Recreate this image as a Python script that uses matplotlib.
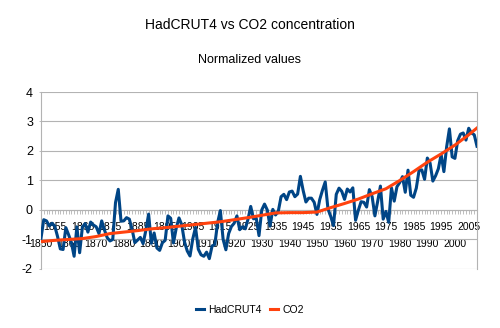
import numpy as np
import matplotlib
matplotlib.use('Agg')
from matplotlib import pyplot as plt

# HadCRUT4 annual values, normalized
years = np.arange(1850, 2009)
hadcrut4 = [
    -0.96, -0.33, -0.37, -0.54, -0.45, -0.55, -0.90, -1.32, -1.34, -0.60,
    -0.84, -1.10, -1.57, -0.57, -1.45, -0.58, -0.46, -0.75, -0.41, -0.51,
    -0.57, -0.80, -0.37, -0.68, -0.94, -1.05, -1.00, 0.25, 0.70, -0.38,
    -0.37, -0.26, -0.31, -0.65, -1.11, -1.02, -0.93, -1.14, -0.69, -0.14,
    -1.13, -0.78, -1.29, -1.37, -1.11, -1.03, -0.20, -0.28, -1.12, -0.62,
    -0.27, -0.50, -1.08, -1.39, -1.56, -0.98, -0.59, -1.33, -1.52, -1.57,
    -1.43, -1.65, -1.22, -1.17, -0.43, -0.02, -1.00, -1.35, -0.80, -0.56,
    -0.45, -0.20, -0.67, -0.57, -0.64, -0.32, 0.12, -0.30, -0.28, -0.87,
    0.00, 0.20, 0.00, -0.55, 0.02, -0.17, -0.04, 0.45, 0.53, 0.35,
    0.61, 0.64, 0.45, 0.54, 1.14, 0.66, 0.27, 0.40, 0.40, 0.26,
    -0.15, 0.35, 0.67, 0.95, 0.03, -0.22, -0.53, 0.53, 0.74, 0.63,
    0.36, 0.71, 0.61, 0.75, -0.35, -0.01, 0.28, 0.26, 0.10, 0.69,
    0.45, -0.20, 0.29, 0.81, -0.31, -0.05, -0.42, 0.75, 0.30, 0.79,
    0.93, 1.13, 0.60, 1.35, 0.50, 0.43, 0.74, 1.34, 1.36, 1.04,
    1.76, 1.59, 0.98, 1.16, 1.40, 1.88, 1.30, 2.14, 2.75, 1.80,
    1.75, 2.35, 2.57, 2.61, 2.37, 2.77, 2.61, 2.55, 2.16,
]

# CO2 concentration, normalized
co2_years = [1850, 1855, 1860, 1865, 1870, 1875, 1880, 1885, 1890, 1895,
             1900, 1905, 1910, 1915, 1920, 1925, 1930, 1935, 1940, 1945,
             1950, 1955, 1960, 1965, 1970, 1975, 1980, 1985, 1990, 1995,
             2000, 2005, 2008]
co2 = [-1.07, -1.03, -1.00, -0.97, -0.90, -0.80, -0.75, -0.70, -0.64, -0.60,
       -0.55, -0.50, -0.45, -0.40, -0.33, -0.26, -0.18, -0.10, -0.09, -0.09,
       -0.07, 0.08, 0.22, 0.37, 0.55, 0.72, 1.00, 1.30, 1.62, 1.90,
       2.20, 2.55, 2.78]

label_years = list(range(1850, 2006, 5))
yticks = [-2, -1, 0, 1, 2, 3, 4]

plt.rcParams['font.family'] = ['Liberation Sans', 'DejaVu Sans']
grey = '#b3b3b3'

fig = plt.figure(figsize=(5.0, 3.28), dpi=100)
ax = fig.add_axes([0.082, 0.180, 0.872, 0.5395])

ax.plot(years, hadcrut4, color='#004586', lw=2.2, solid_joinstyle='round',
        label='HadCRUT4', zorder=3)
ax.plot(co2_years, co2, color='#ff420e', lw=2.2, solid_joinstyle='round',
        label='CO2', zorder=4)

ax.set_xlim(1850, 2008)
ax.set_ylim(-2, 4)
ax.set_yticks(yticks)
ax.set_yticklabels([str(v) for v in yticks])
ax.yaxis.grid(True, color=grey, lw=0.8)
ax.set_axisbelow(True)

for side in ['top']:
    ax.spines[side].set_visible(False)
ax.spines['left'].set_color(grey)
ax.spines['right'].set_color(grey)
ax.spines['bottom'].set_position(('data', 0))
ax.spines['bottom'].set_color(grey)
ax.spines['bottom'].set_zorder(2)

ax.set_xticks(label_years)
ax.set_xticklabels([str(y) for y in label_years])
ax.set_xticks(years, minor=True)
ax.tick_params(axis='x', which='both', length=3.2, width=0.6, color=grey,
               labelsize=7.5)
ax.tick_params(axis='y', length=1.5, width=0.6, color=grey, labelsize=9,
               pad=4.3)
for i, tick in enumerate(ax.xaxis.get_major_ticks()):
    tick.set_pad(17.7 if i % 2 == 0 else 5.8)

fig.text(0.5, 0.924, 'HadCRUT4 vs CO2 concentration', ha='center',
         va='center', fontsize=10)
fig.text(0.5, 0.817, 'Normalized values', ha='center', va='center',
         fontsize=9)

fig.legend(loc='center', bbox_to_anchor=(0.5, 0.055), ncol=2, frameon=False,
           fontsize=7.5, handlelength=0.8, handletextpad=0.4,
           columnspacing=0.8)

fig.savefig('out.png', dpi=100)
